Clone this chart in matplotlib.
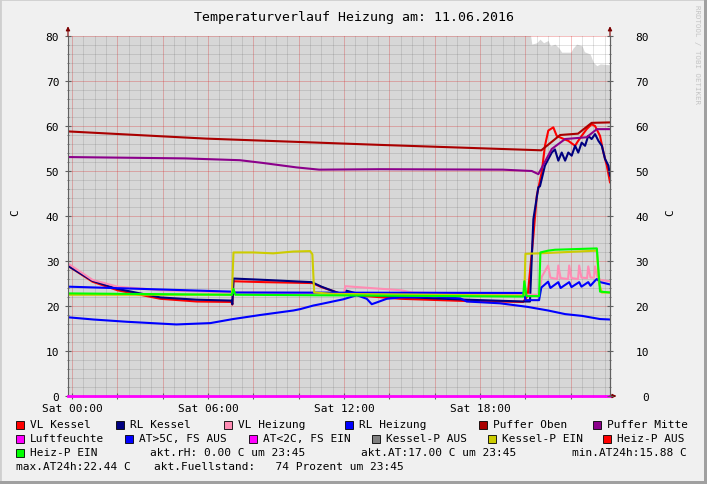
import matplotlib
matplotlib.use("Agg")
import matplotlib.pyplot as plt
from matplotlib.patches import Rectangle
from matplotlib.ticker import MultipleLocator

plt.rcParams['font.family'] = ['DejaVu Sans Mono']

# ---------------- data (hours since Sat 00:00, value) ----------------
title = "Temperaturverlauf Heizung am: 11.06.2016"
x_tick_pos = [0, 6, 12, 18]
x_tick_labels = ["Sat 00:00", "Sat 06:00", "Sat 12:00", "Sat 18:00"]
y_ticks = [0, 10, 20, 30, 40, 50, 60, 70, 80]

t_fuell = [-0.2, 20.2, 20.28, 20.5, 20.64, 20.8, 21.0, 21.1, 21.3, 21.45, 21.6, 22.0, 22.1,
           22.26, 22.5, 22.6, 22.85, 23.0, 23.15, 23.3, 23.73]
v_fuell = [81, 81, 78.2, 78.5, 79.3, 78.5, 79.0, 77.8, 78.2, 77.5, 76.4, 76.4, 77.3,
           78.2, 77.8, 76.5, 76.0, 74.1, 73.4, 73.8, 73.6]

t_vl_kessel = [-0.2, 0.9, 2.0, 3.9, 5.5, 7.03, 7.07, 7.12, 8.5, 10.6, 11.0, 11.7, 11.95, 12.05,
               12.7, 14.5, 17.4, 19.9, 20.1, 20.35, 20.5, 20.72, 20.86, 21.01, 21.23, 21.38,
               21.6, 21.89, 22.19, 22.3, 22.48, 22.7, 22.92, 23.07, 23.29, 23.44, 23.59, 23.73]
v_vl_kessel = [29.0, 25.4, 23.5, 21.6, 21.0, 20.9, 20.3, 25.5, 25.3, 25.1, 24.2, 23.0, 22.5, 22.9,
               22.3, 21.6, 21.1, 20.9, 22.3, 35.6, 44.5, 49.8, 55.6, 59.0, 59.7, 57.8,
               57.3, 56.7, 55.6, 56.5, 57.8, 59.3, 60.4, 60.0, 57.8, 54.1, 51.2, 47.5]

t_rl_kessel = [-0.2, 0.9, 2.0, 3.9, 5.5, 7.03, 7.07, 7.12, 8.5, 10.57, 11.0, 11.68, 12.0, 12.1,
               12.7, 14.5, 17.4, 19.9, 20.2, 20.35, 20.57, 20.64, 20.86, 21.16, 21.3, 21.45,
               21.6, 21.75, 21.89, 22.04, 22.19, 22.33, 22.48, 22.63, 22.77, 22.92, 23.07,
               23.22, 23.37, 23.51, 23.66, 23.73]
v_rl_kessel = [29.0, 25.6, 23.8, 21.9, 21.4, 21.2, 20.4, 26.1, 25.8, 25.3, 24.3, 23.0, 22.6, 23.4,
               22.6, 22.0, 21.4, 21.0, 21.0, 39.3, 46.4, 46.6, 51.2, 54.1, 54.8, 52.3,
               54.1, 52.3, 54.1, 53.4, 55.6, 54.1, 56.3, 55.6, 57.8, 57.1, 58.2,
               56.7, 55.6, 52.7, 51.2, 49.0]

t_vl_heizung = [-0.2, 0.9, 2.0, 3.0, 3.9, 7.0, 12.0, 12.05, 14.5, 15.0, 19.9, 20.6, 20.72,
                21.0, 21.1, 21.4, 21.45, 21.55, 21.88, 21.93, 22.03, 22.32, 22.37, 22.47,
                22.72, 22.77, 22.87, 23.02, 23.07, 23.17, 23.3, 23.73]
v_vl_heizung = [29.5, 25.8, 24.3, 23.9, 23.5, 23.0, 22.8, 24.4, 23.5, 23.0, 22.5, 22.5, 26.5,
                29.0, 26.3, 26.0, 29.0, 26.2, 26.0, 29.0, 26.2, 26.0, 29.0, 26.3,
                26.2, 28.8, 26.3, 26.3, 28.8, 26.5, 25.8, 25.5]

t_rl_heizung = [-0.2, 7.0, 7.1, 19.95, 20.0, 20.6, 20.7, 21.0, 21.1, 21.45, 21.55, 21.93, 22.03,
                22.37, 22.47, 22.77, 22.87, 23.1, 23.15, 23.3, 23.73]
v_rl_heizung = [24.3, 23.2, 23.0, 22.9, 21.3, 21.3, 24.1, 25.4, 24.0, 25.3, 24.0, 25.3, 24.2,
                25.3, 24.3, 25.3, 24.5, 25.8, 26.0, 25.3, 24.8]

t_puffer_oben = [-0.2, 5.9, 13.6, 20.7, 21.53, 22.32, 22.92, 23.73]
v_puffer_oben = [58.8, 57.2, 55.8, 54.6, 58.0, 58.3, 60.7, 60.8]

t_puffer_mitte = [-0.2, 5.0, 7.4, 8.4, 9.9, 10.9, 13.6, 19.0, 20.28, 20.57, 21.16, 21.75, 22.7,
                  23.15, 23.73]
v_puffer_mitte = [53.1, 52.8, 52.4, 51.8, 50.8, 50.3, 50.4, 50.3, 50.0, 49.3, 54.9, 57.1, 57.5,
                  59.3, 59.3]

t_luftfeuchte = [-0.2, 23.73]
v_luftfeuchte = [0.0, 0.0]

t_aussen = [-0.2, 0.94, 2.4, 4.6, 6.1, 7.1, 8.3, 9.76, 10.06, 10.64, 10.94, 11.97, 12.56, 13.0,
            13.22, 13.5, 13.88, 14.47, 15.92, 17.12, 17.41, 18.88, 20.1, 21.0, 21.75, 22.5,
            23.29, 23.73]
v_aussen = [17.5, 17.0, 16.5, 15.9, 16.2, 17.1, 18.0, 19.0, 19.3, 20.1, 20.4, 21.5, 22.4, 21.6,
            20.4, 20.9, 21.6, 21.9, 22.1, 21.7, 21.0, 20.6, 19.8, 19.0, 18.2, 17.8,
            17.1, 17.0]

t_kessel_p = [-0.2, 7.05, 7.12, 8.0, 8.87, 9.76, 10.5, 10.6, 10.68, 11.5, 19.9, 19.95, 20.0,
              20.6, 23.15, 23.25, 23.37, 23.73]
v_kessel_p = [22.5, 22.5, 31.9, 31.9, 31.7, 32.1, 32.2, 31.5, 23.0, 22.7, 22.3, 22.5, 31.6,
              31.7, 32.3, 25.0, 23.0, 23.0]

t_heiz_p = [-0.2, 7.05, 7.12, 7.2, 19.9, 19.95, 20.05, 20.6, 20.66, 21.0, 21.3, 23.15, 23.29,
            23.73]
v_heiz_p = [22.8, 22.5, 23.8, 22.5, 22.1, 25.5, 22.2, 22.2, 31.9, 32.3, 32.5, 32.8, 23.2,
            23.0]

legend_rows = [
    [("VL Kessel", "#ff0000"), ("RL Kessel", "#000080"), ("VL Heizung", "#ff8cb4"),
     ("RL Heizung", "#0000ff"), ("Puffer Oben", "#aa0000"), ("Puffer Mitte", "#8b008b")],
    [("Luftfeuchte", "#ff00ff"), ("AT>5C, FS AUS", "#0000ff"), ("AT<2C, FS EIN", "#ff00ff"),
     ("Kessel-P AUS", "#808080"), ("Kessel-P EIN", "#cccc00"), ("Heiz-P AUS", "#ff0000")],
    [("Heiz-P EIN", "#00ff00")],
]
info_row3 = ["akt.rH: 0.00 C um 23:45", "akt.AT:17.00 C um 23:45", "min.AT24h:15.88 C"]
info_row4 = ["max.AT24h:22.44 C", "akt.Fuellstand:   74 Prozent um 23:45"]

# ---------------- figure ----------------
W, H = 707, 485
fig = plt.figure(figsize=(W / 100, H / 100), dpi=100, facecolor="#f0f0f0")

def fx(px):
    return px / W

def fy(py):
    return 1 - py / H

# frame borders
fig.patches.append(Rectangle((0, 0), 1, 1, transform=fig.transFigure, fill=False,
                             edgecolor="#cfcfcf", lw=2.0))
fig.patches.append(Rectangle((fx(0), fy(485)), 1, fy(482) - fy(485), transform=fig.transFigure,
                             facecolor="#a0a0a0", edgecolor="none"))
fig.patches.append(Rectangle((fx(704), 0), fx(3), 1, transform=fig.transFigure,
                             facecolor="#a0a0a0", edgecolor="none"))

ax = fig.add_axes([fx(68), fy(397), fx(610) - fx(68), fy(37) - fy(397)])
ax.set_facecolor("white")
ax.set_xlim(-0.18, 23.73)
ax.set_ylim(0, 80)

ax.fill_between(t_fuell, 0, v_fuell, color="#d7d7d7", lw=0, zorder=0.5)

# grid
ax.xaxis.set_major_locator(MultipleLocator(2))
ax.xaxis.set_minor_locator(MultipleLocator(0.5))
ax.yaxis.set_major_locator(MultipleLocator(10))
ax.yaxis.set_minor_locator(MultipleLocator(2))
ax.grid(which="minor", color="#606060", alpha=0.18, lw=0.72, zorder=1)
ax.grid(which="major", color="#d82020", alpha=0.28, lw=0.72, zorder=1.1)
ax.set_axisbelow("line")

ax.set_xticks([h for h in range(0, 24, 2)])
ax.set_xticklabels([x_tick_labels[x_tick_pos.index(h)] if h in x_tick_pos else "" for h in range(0, 24, 2)])
ax.set_yticks(y_ticks)

lw = 1.5
series = [
    (t_vl_kessel, v_vl_kessel, "#ff0000"),
    (t_rl_kessel, v_rl_kessel, "#000080"),
    (t_vl_heizung, v_vl_heizung, "#ff8cb4"),
    (t_rl_heizung, v_rl_heizung, "#0000ff"),
    (t_puffer_oben, v_puffer_oben, "#aa0000"),
    (t_puffer_mitte, v_puffer_mitte, "#8b008b"),
    (t_aussen, v_aussen, "#0000ff"),
    (t_kessel_p, v_kessel_p, "#cccc00"),
    (t_heiz_p, v_heiz_p, "#00ff00"),
]
for i, (t, v, c) in enumerate(series):
    ax.plot(t, v, color=c, lw=lw, zorder=2 + i * 0.01, solid_joinstyle="round")
ax.plot(t_luftfeuchte, v_luftfeuchte, color="#ff00ff", lw=2.0, zorder=3, clip_on=False)

for s in ["top"]:
    ax.spines[s].set_visible(False)
for s in ["left", "right", "bottom"]:
    ax.spines[s].set_color("#606060")
    ax.spines[s].set_linewidth(0.8)

ax.tick_params(axis="both", which="major", direction="inout", length=4, width=0.8,
               color="#606060", labelsize=8, labelcolor="black")
ax.tick_params(axis="both", which="minor", direction="inout", length=2, width=0.6,
               color="#606060")
ax.tick_params(axis="y", which="major", pad=4.3)
ax.tick_params(axis="x", which="major", pad=2.9)

ax2 = ax.twinx()
ax2.set_ylim(0, 80)
ax2.set_yticks(y_ticks)
ax2.yaxis.set_minor_locator(MultipleLocator(2))
ax2.tick_params(axis="y", which="major", direction="inout", length=4, width=0.8,
                color="#606060", labelsize=8, pad=26)
ax2.tick_params(axis="y", which="minor", direction="inout", length=2, width=0.6,
                color="#606060")
for tl in ax2.get_yticklabels():
    tl.set_horizontalalignment("right")
for s in ["top", "left", "bottom"]:
    ax2.spines[s].set_visible(False)
ax2.spines["right"].set_color("#606060")
ax2.spines["right"].set_linewidth(0.8)

# axis arrows
arrow_c = "#7a0000"
for xa in (0.0, 1.0):
    ax.annotate("", xy=(xa, 1.027), xytext=(xa, 1.0), xycoords="axes fraction",
                arrowprops=dict(arrowstyle="-|>", color=arrow_c, lw=0.8, mutation_scale=6,
                                shrinkA=0, shrinkB=0))
ax.annotate("", xy=(1.012, 0.0), xytext=(1.0, 0.0), xycoords="axes fraction",
            arrowprops=dict(arrowstyle="-|>", color=arrow_c, lw=0.8, mutation_scale=6,
                            shrinkA=0, shrinkB=0))

# titles / labels
fig.text(fx(354), fy(17), title, ha="center", va="center", fontsize=9.5)
fig.text(fx(15), fy(213), "C", ha="center", va="center", rotation=90, fontsize=8)
fig.text(fx(670), fy(213), "C", ha="center", va="center", rotation=90, fontsize=8)
fig.text(fx(697), fy(5), "RRDTOOL / TOBI OETIKER", ha="center", va="top", rotation=270,
         fontsize=5.3, color="#c4c4c4")

# legend
row_y = [425.5, 439.5, 453.5, 467.5]
sq_x = [
    [16, 116, 224, 345, 479, 593],
    [16, 125, 249, 372, 488, 603],
    [16],
]
for r, row in enumerate(legend_rows):
    for k, (lab, col) in enumerate(row):
        x0 = sq_x[r][k]
        fig.patches.append(Rectangle((fx(x0), fy(row_y[r] + 4)), fx(8), fy(0) - fy(8),
                                     transform=fig.transFigure, facecolor=col,
                                     edgecolor="black", lw=0.6))
        fig.text(fx(x0 + 14), fy(row_y[r]), lab, ha="left", va="center", fontsize=8)

for xpos, s in zip([150, 361, 572], info_row3):
    fig.text(fx(xpos), fy(row_y[2]), s, ha="left", va="center", fontsize=8)
for xpos, s in zip([16, 154], info_row4):
    fig.text(fx(xpos), fy(row_y[3]), s, ha="left", va="center", fontsize=8)

fig.savefig("out.png", dpi=100, facecolor=fig.get_facecolor())
